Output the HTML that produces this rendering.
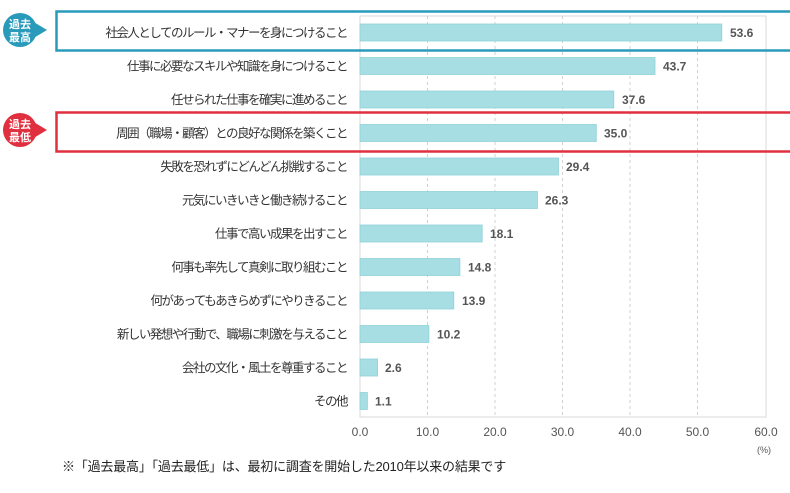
<!DOCTYPE html>
<html><head><meta charset="utf-8"><style>
body{margin:0;background:#fff;}
svg text{font-family:"Liberation Sans","Noto Sans CJK JP",sans-serif;}
</style></head><body>
<svg width="790" height="488" xmlns="http://www.w3.org/2000/svg">
<rect x="360" y="16" width="406" height="401" fill="#fff" stroke="#d8d8d8"/>
<g stroke="#d0d0d0" stroke-dasharray="3,3">
<line x1="427.5" y1="16" x2="427.5" y2="417"/><line x1="495" y1="16" x2="495" y2="417"/>
<line x1="562.5" y1="16" x2="562.5" y2="417"/><line x1="630" y1="16" x2="630" y2="417"/>
<line x1="697.5" y1="16" x2="697.5" y2="417"/>
</g>
<g fill="#a6dee3" stroke="#8fd2d9" stroke-width="0.8">
<rect x="360" y="24" width="361.8" height="17"/>
<rect x="360" y="57.5" width="295" height="17"/>
<rect x="360" y="91" width="253.8" height="17"/>
<rect x="360" y="124.5" width="236.3" height="17"/>
<rect x="360" y="158" width="198.5" height="17"/>
<rect x="360" y="191.5" width="177.5" height="17"/>
<rect x="360" y="225" width="122.2" height="17"/>
<rect x="360" y="258.5" width="99.9" height="17"/>
<rect x="360" y="292" width="93.8" height="17"/>
<rect x="360" y="325.5" width="68.9" height="17"/>
<rect x="360" y="359" width="17.6" height="17"/>
<rect x="360" y="392.5" width="7.4" height="17"/>
</g>
<g font-size="12.5" fill="#333" text-anchor="end" letter-spacing="-1.5">
<text x="347" y="37">社会人としてのルール・マナーを身につけること</text>
<text x="347" y="70.5">仕事に必要なスキルや知識を身につけること</text>
<text x="347" y="104">任せられた仕事を確実に進めること</text>
<text x="347" y="137.5">周囲（職場・顧客）との良好な関係を築くこと</text>
<text x="347" y="171">失敗を恐れずにどんどん挑戦すること</text>
<text x="347" y="204.5">元気にいきいきと働き続けること</text>
<text x="347" y="238">仕事で高い成果を出すこと</text>
<text x="347" y="271.5">何事も率先して真剣に取り組むこと</text>
<text x="347" y="305">何があってもあきらめずにやりきること</text>
<text x="347" y="338.5">新しい発想や行動で、職場に刺激を与えること</text>
<text x="347" y="372">会社の文化・風土を尊重すること</text>
<text x="347" y="405.5">その他</text>
</g>
<g font-size="12" font-weight="bold" fill="#555">
<text x="730" y="37">53.6</text><text x="663" y="70.5">43.7</text>
<text x="622" y="104">37.6</text><text x="604" y="137.5">35.0</text>
<text x="566" y="171">29.4</text><text x="545" y="204.5">26.3</text>
<text x="490" y="238">18.1</text><text x="468" y="271.5">14.8</text>
<text x="462" y="305">13.9</text><text x="437" y="338.5">10.2</text>
<text x="385" y="372">2.6</text><text x="375" y="405.5">1.1</text>
</g>
<g font-size="12" fill="#555" text-anchor="middle">
<text x="360" y="436">0.0</text><text x="427.5" y="436">10.0</text><text x="495" y="436">20.0</text>
<text x="562.5" y="436">30.0</text><text x="630" y="436">40.0</text><text x="697.5" y="436">50.0</text>
<text x="766" y="436">60.0</text>
<text x="764" y="453" font-size="9">(%)</text>
</g>
<rect x="56.5" y="11.5" width="735" height="39" fill="none" stroke="#2a9abb" stroke-width="2.5"/>
<rect x="56.5" y="112.5" width="735" height="39" fill="none" stroke="#e0303f" stroke-width="2.5"/>
<circle cx="20" cy="30" r="17" fill="#2a9abb"/>
<path d="M32,21 l15,9 l-15,9z" fill="#2a9abb"/>
<circle cx="20" cy="130" r="17" fill="#e0303f"/>
<path d="M32,121 l15,9 l-15,9z" fill="#e0303f"/>
<g font-size="11" font-weight="bold" fill="#fff" text-anchor="middle">
<text x="20" y="28">過去</text><text x="20" y="41">最高</text>
<text x="20" y="128">過去</text><text x="20" y="141">最低</text>
</g>
<text x="62" y="471" font-size="13" fill="#222" letter-spacing="-0.2">※「過去最高」「過去最低」は、最初に調査を開始した2010年以来の結果です</text>
</svg>
</body></html>
